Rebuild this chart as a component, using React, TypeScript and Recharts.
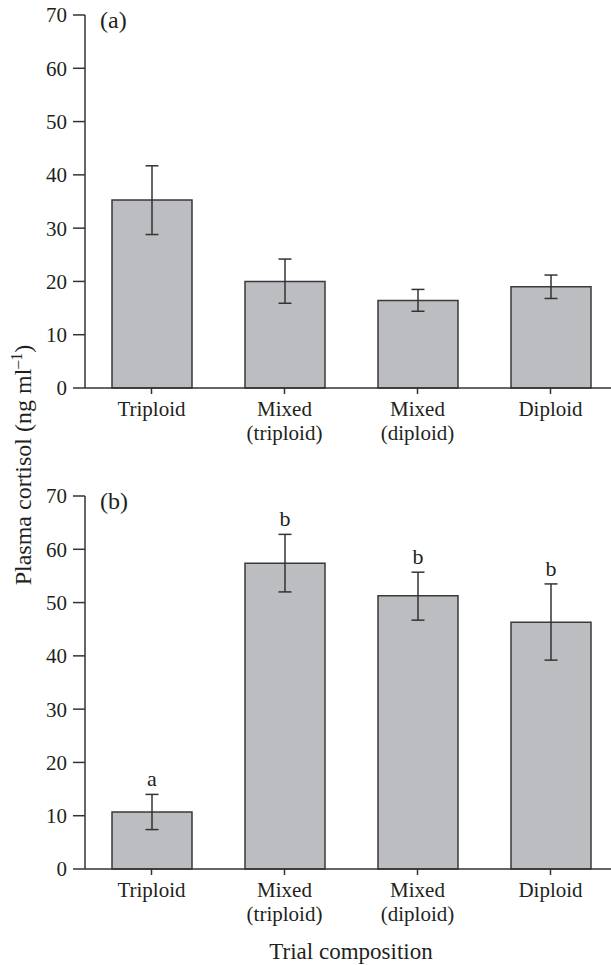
import { Bar, BarChart, ErrorBar, Label, LabelList, XAxis, YAxis } from 'recharts'

const categories = ['Triploid', 'Mixed\n(triploid)', 'Mixed\n(diploid)', 'Diploid']
const yTicks = [0, 10, 20, 30, 40, 50, 60, 70]

// panel (a)
const meanA = [35.3, 20.0, 16.4, 19.0]
const upperA = [41.7, 24.2, 18.5, 21.2]
const lowerA = [28.8, 15.9, 14.4, 16.8]

// panel (b)
const meanB = [10.7, 57.4, 51.3, 46.3]
const upperB = [14.0, 62.8, 55.7, 53.5]
const lowerB = [7.4, 52.0, 46.7, 39.2]
const lettersB = ['a', 'b', 'b', 'b']

const FONT = '"Liberation Serif", "Times New Roman", serif'
const INK = '#231f20'
const AXIS = '#333333'

const buildRows = (mean: number[], upper: number[], lower: number[], letters?: string[]) =>
  categories.map((name, i) => ({
    name,
    value: mean[i],
    upper: upper[i],
    err: [mean[i] - lower[i], upper[i] - mean[i]],
    letter: letters ? letters[i] : '',
  }))

const dataA = buildRows(meanA, upperA, lowerA)
const dataB = buildRows(meanB, upperB, lowerB, lettersB)

function CategoryTick({ x, y, payload }: any) {
  const lines = String(payload.value).split('\n')
  return (
    <text x={x} y={y} textAnchor="middle" fontSize={21} fontFamily={FONT} fill={INK}>
      {lines.map((line, i) => (
        <tspan key={i} x={x} dy={i === 0 ? 20 : 24}>
          {line}
        </tspan>
      ))}
    </text>
  )
}

function Panel({ data, tag, height, letters }: { data: any[]; tag: string; height: number; letters?: boolean }) {
  return (
    <BarChart
      width={618}
      height={height}
      data={data}
      margin={{ top: 15, right: 1, left: 0, bottom: 0 }}
      barSize={80}
    >
      <XAxis
        dataKey="name"
        interval={0}
        height={height - 15 - 373}
        tickSize={6}
        tick={<CategoryTick />}
        axisLine={{ stroke: AXIS, strokeWidth: 1.5 }}
        tickLine={{ stroke: AXIS, strokeWidth: 1.5 }}
      >
        {letters && (
          <Label
            value="Trial composition"
            position="insideBottom"
            offset={6}
            style={{ fontSize: 23, fontFamily: FONT, fill: INK }}
          />
        )}
      </XAxis>
      <YAxis
        width={85}
        domain={[0, 70]}
        ticks={yTicks}
        interval={0}
        tickSize={12}
        tickMargin={6}
        tick={{ fontSize: 21, fontFamily: FONT, fill: INK }}
        axisLine={{ stroke: AXIS, strokeWidth: 1.5 }}
        tickLine={{ stroke: AXIS, strokeWidth: 1.5 }}
      >
        <Label
          content={({ viewBox }: any) =>
            viewBox ? (
              <text
                x={viewBox.x + viewBox.width + 15}
                y={viewBox.y + 13}
                fontSize={24}
                fontFamily={FONT}
                fill={INK}
              >
                {tag}
              </text>
            ) : null
          }
        />
      </YAxis>
      <Bar dataKey="value" fill="#bcbdc1" stroke="#3a3a3a" strokeWidth={1.5} isAnimationActive={false}>
        <ErrorBar dataKey="err" width={6.5} stroke={AXIS} strokeWidth={1.5} />
        {letters && (
          <LabelList
            dataKey="letter"
            content={(props: any) => {
              const { x, y, width, height: h, index, value } = props
              const row = data[index]
              if (!row || !value) return null
              const perUnit = h / row.value
              const top = y + h - row.upper * perUnit
              return (
                <text
                  x={x + width / 2}
                  y={top - 8}
                  textAnchor="middle"
                  fontSize={22}
                  fontFamily={FONT}
                  fill={INK}
                >
                  {value}
                </text>
              )
            }}
          />
        )}
      </Bar>
    </BarChart>
  )
}

export default function App() {
  return (
    <div
      style={{
        position: 'absolute',
        left: 0,
        top: 0,
        width: 611,
        height: 965,
        overflow: 'hidden',
        background: '#fff',
      }}
    >
      <div style={{ position: 'absolute', left: 0, top: 0 }}>
        <Panel data={dataA} tag="(a)" height={448} />
      </div>
      <div style={{ position: 'absolute', left: 0, top: 481 }}>
        <Panel data={dataB} tag="(b)" height={484} letters />
      </div>
      <svg width={60} height={965} style={{ position: 'absolute', left: 0, top: 0 }}>
        <text
          transform="translate(23,465) rotate(-90)"
          x={0}
          y={0}
          dy={8}
          textAnchor="middle"
          fontSize={24}
          fontFamily={FONT}
          fill={INK}
        >
          Plasma cortisol (ng ml
          <tspan dy={-9} fontSize={16}>
            –1
          </tspan>
          <tspan dy={9}>)</tspan>
        </text>
      </svg>
    </div>
  )
}
